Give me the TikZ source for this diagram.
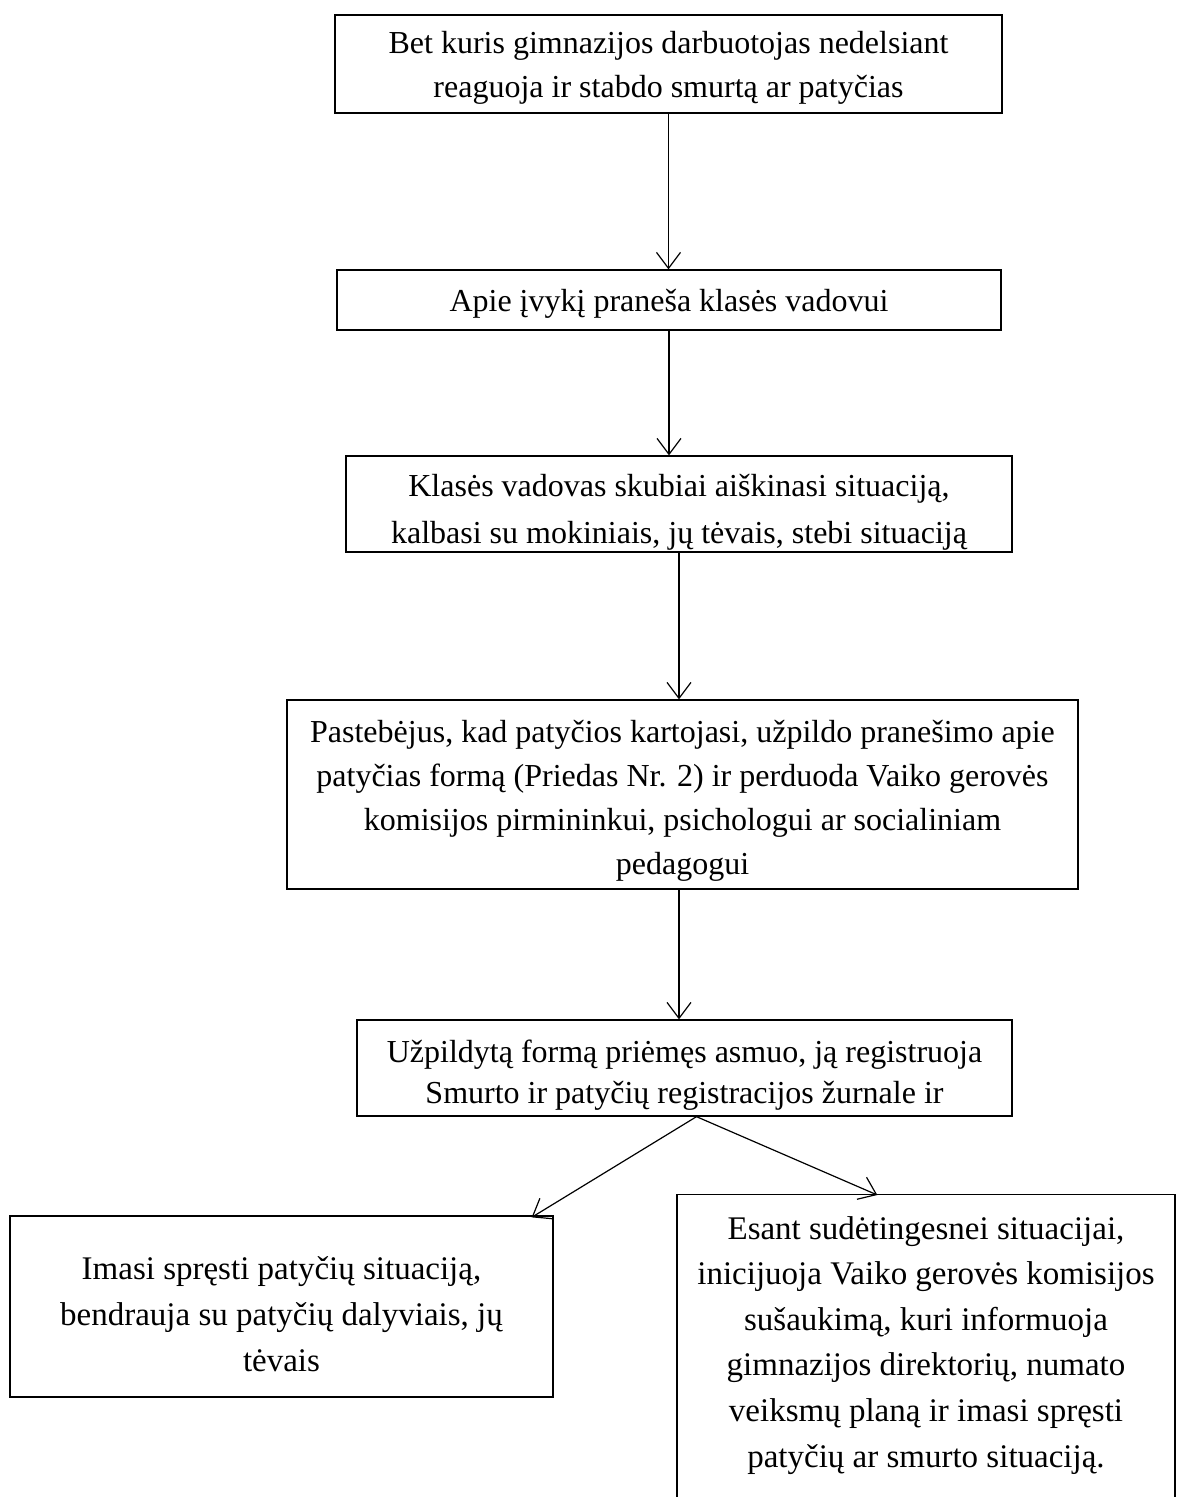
\documentclass[tikz,border=0pt]{standalone}
\usepackage{fontspec}
\setmainfont{Liberation Serif}
\usetikzlibrary{arrows.meta,calc}
\begin{document}
\begin{tikzpicture}[x=1pt,y=-1pt,
  frame/.style={draw,line width=1.3pt,rectangle,inner sep=0pt},
  txt/.style={inner sep=0pt,align=center,font=\fontsize{32}{44}\selectfont},
  conn/.style={line width=1.2pt,-{Straight Barb[length=16pt,width=24pt,line width=1.2pt]}}]
\useasboundingbox (0,0) rectangle (1198,1497);
% boxes
\node[frame,minimum width=667pt,minimum height=98pt] (b1) at (668.5,64) {};
\node[frame,minimum width=664pt,minimum height=60pt] (b2) at (669,300) {};
\node[frame,minimum width=666pt,minimum height=96pt] (b3) at (679,504) {};
\node[frame,minimum width=791pt,minimum height=189pt] (b4) at (682.5,794.5) {};
\node[frame,minimum width=655pt,minimum height=96pt] (b5) at (684.5,1068) {};
\node[frame,minimum width=543pt,minimum height=181pt] (b6) at (281.5,1306.5) {};
\node[frame,minimum width=498pt,minimum height=316pt,anchor=north] (b7) at (926,1194) {};
% texts
\node[txt] (t1) at ($(b1.center)+(0,4)$)
  {Bet kuris gimnazijos darbuotojas nedelsiant\\reaguoja ir stabdo smurtą ar patyčias};
\node[txt] (t2) at ($(b2.center)+(0,4)$)
  {Apie įvykį praneša klasės vadovui};
\node[txt,font=\fontsize{32}{47}\selectfont] (t3) at ($(b3.center)+(0,8)$)
  {Klasės vadovas skubiai aiškinasi situaciją,\\kalbasi su mokiniais, jų tėvais, stebi situaciją};
\node[txt] (t4) at ($(b4.center)+(0,6)$)
  {Pastebėjus, kad patyčios kartojasi, užpildo pranešimo apie\\patyčias formą (Priedas Nr. 2) ir perduoda Vaiko gerovės\\komisijos pirmininkui, psichologui ar socialiniam\\pedagogui};
\node[txt,font=\fontsize{32}{41}\selectfont] (t5) at ($(b5.center)+(0,7)$)
  {Užpildytą formą priėmęs asmuo, ją registruoja\\Smurto ir patyčių registracijos žurnale ir};
\node[txt,font=\fontsize{33}{46}\selectfont] (t6) at ($(b6.center)+(0,8)$)
  {Imasi spręsti patyčių situaciją,\\bendrauja su patyčių dalyviais, jų\\tėvais};
\node[txt,font=\fontsize{33}{45.6}\selectfont,anchor=north] (t7) at ($(b7.north)+(0,22)$)
  {Esant sudėtingesnei situacijai,\\inicijuoja Vaiko gerovės komisijos\\sušaukimą, kuri informuoja\\gimnazijos direktorių, numato\\veiksmų planą ir imasi spręsti\\patyčių ar smurto situaciją.};
% connectors
\coordinate (split) at ($(b5.south)+(12,0)$);
\draw[conn] (b1.south) -- (b1.south |- b2.north);
\draw[conn] (b2.south) -- (b2.south |- b3.north);
\draw[conn] (b3.south) -- (b3.south |- b4.north);
\draw[conn] (b3.south |- b4.south) -- (b3.south |- b5.north);
\draw[conn] (split) -- ($(b6.north east)+(-22,2)$);
\draw[conn] (split) -- ($(b7.north west)+(201,1)$);
\end{tikzpicture}
\end{document}
